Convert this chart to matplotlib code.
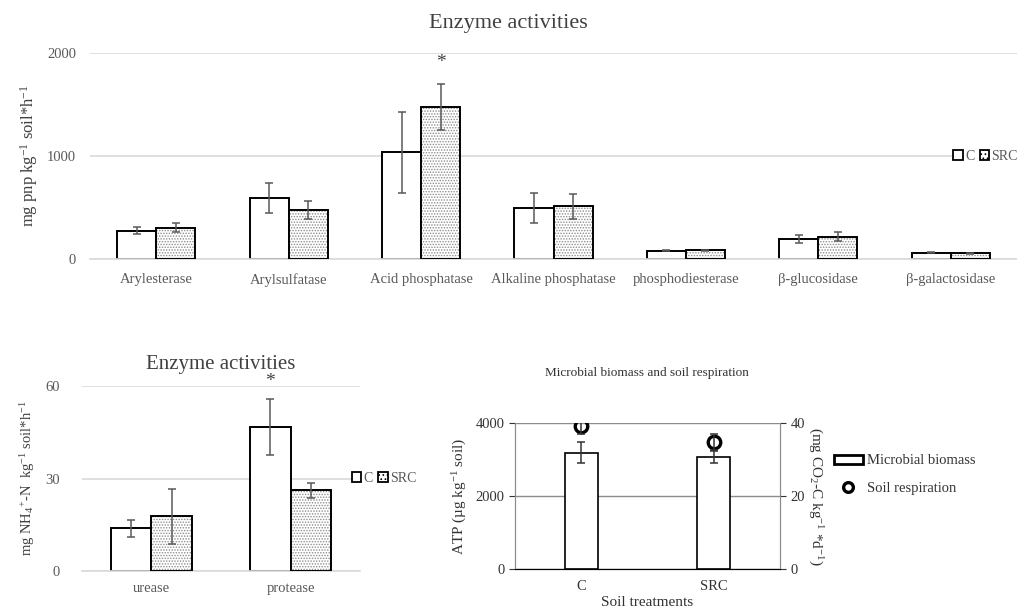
import matplotlib
matplotlib.use("Agg")
import matplotlib.pyplot as plt
import numpy as np
from matplotlib.lines import Line2D
from matplotlib.patches import Patch

# top panel: enzyme activities (mg pnp)
ENZ_CATS = ["Arylesterase", "Arylsulfatase", "Acid phosphatase", "Alkaline phosphatase",
            "phosphodiesterase", "\u03b2-glucosidase", "\u03b2-galactosidase"]
ENZ_C = [275, 590, 1035, 495, 80, 195, 60]
ENZ_C_ERR = [32, 148, 395, 145, 5, 40, 4]
ENZ_SRC = [305, 478, 1475, 510, 86, 215, 56]
ENZ_SRC_ERR = [40, 85, 220, 118, 5, 43, 4]
ENZ_STAR = [2]  # index of SRC bar marked with *

# bottom-left panel: N enzymes
N_CATS = ["urease", "protease"]
N_C = [13.9, 46.7]
N_C_ERR = [2.8, 9.0]
N_SRC = [17.8, 26.2]
N_SRC_ERR = [8.9, 2.4]

# bottom-right panel: biomass and respiration
TREATS = ["C", "SRC"]
ATP = [3190, 3075]
ATP_ERR = [290, 170]
RESP = [39.2, 35.0]
RESP_ERR = [2.2, 2.2]

GRAY = "#595959"
GRID = "#d9d9d9"
HATCH_COL = "#8c8c8c"

plt.rcParams.update({
    "font.family": ["Liberation Serif", "DejaVu Serif"],
    "mathtext.fontset": "custom",
    "mathtext.rm": "Liberation Serif",
    "mathtext.it": "Liberation Serif:italic",
    "hatch.linewidth": 0.7,
})


def paired_bars(ax, c, c_err, s, s_err, width):
    x = np.arange(len(c))
    xc, xs = x - width / 2, x + width / 2
    ax.bar(xc, c, width, color="white", edgecolor="black", linewidth=1.4, zorder=2)
    # hatch drawn separately so it stays gray under a black outline
    ax.bar(xs, s, width, color="white", edgecolor=HATCH_COL, hatch="......", linewidth=0, zorder=2)
    ax.bar(xs, s, width, fill=False, edgecolor="black", linewidth=1.4, zorder=3)
    ax.errorbar(xc, c, yerr=c_err, fmt="none", ecolor=GRAY, elinewidth=1.1, capsize=3, capthick=1.1, zorder=4)
    ax.errorbar(xs, s, yerr=s_err, fmt="none", ecolor=GRAY, elinewidth=1.1, capsize=3, capthick=1.1, zorder=4)
    return x, xc, xs


def style_flat(ax):
    for side in ["top", "left", "right"]:
        ax.spines[side].set_visible(False)
    ax.spines["bottom"].set_color(GRID)
    ax.spines["bottom"].set_linewidth(1.2)
    ax.yaxis.grid(True, color=GRID, linewidth=1.2, zorder=0)
    ax.set_axisbelow(True)
    ax.tick_params(length=0, colors=GRAY, labelsize=10.5)


def cg_legend_handles():
    return [Patch(facecolor="white", edgecolor="black", linewidth=1.3),
            Patch(facecolor="white", edgecolor="black", hatch="....", linewidth=1.3)]


fig = plt.figure(figsize=(10.17, 6.1), dpi=100)

# ---- top panel
ax1 = fig.add_axes([0.0885, 0.5754, 0.9115, 0.3377])
x, xc, xs = paired_bars(ax1, ENZ_C, ENZ_C_ERR, ENZ_SRC, ENZ_SRC_ERR, 0.295)
style_flat(ax1)
ax1.set_xlim(-0.5, len(ENZ_CATS) - 0.5)
ax1.set_ylim(0, 2000)
ax1.set_yticks([0, 1000, 2000])
ax1.set_xticks(x)
ax1.set_xticklabels(ENZ_CATS, fontsize=10.5)
ax1.tick_params(axis="x", pad=10)
ax1.tick_params(axis="y", pad=10)
for i in ENZ_STAR:
    ax1.text(xs[i], ENZ_SRC[i] + ENZ_SRC_ERR[i] + 130, "*", ha="center", va="bottom",
             fontsize=14, color="#404040")
ax1.set_ylabel("mg pnp kg$^{-1}$ soil*h$^{-1}$", fontsize=12, color="#404040", labelpad=5)
fig.text(0.5, 0.962, "Enzyme activities", ha="center", va="center", fontsize=16, color="#404040")
leg1 = ax1.legend(cg_legend_handles(), ["C", "SRC"], ncol=2, loc="center right",
                  bbox_to_anchor=(1.01, 0.5), fontsize=10, handlelength=0.7, handleheight=0.7,
                  handletextpad=0.15, columnspacing=0.4, borderpad=0.1, frameon=True,
                  fancybox=False, edgecolor="none", labelcolor=GRAY)
leg1.get_frame().set_facecolor("white")
leg1.get_frame().set_alpha(1)

# ---- bottom-left panel
ax2 = fig.add_axes([0.0806, 0.0639, 0.2734, 0.3033])
x2, xc2, xs2 = paired_bars(ax2, N_C, N_C_ERR, N_SRC, N_SRC_ERR, 0.29)
style_flat(ax2)
ax2.set_xlim(-0.5, len(N_CATS) - 0.5)
ax2.set_ylim(0, 60)
ax2.set_yticks([0, 30, 60])
ax2.set_xticks(x2)
ax2.set_xticklabels(N_CATS, fontsize=10.5)
ax2.tick_params(axis="x", pad=8)
ax2.tick_params(axis="y", pad=16)
ax2.text(xc2[1], N_C[1] + N_C_ERR[1] + 3.0, "*", ha="center", va="bottom",
         fontsize=14, color="#404040")
ax2.set_ylabel("mg NH$_4$$^{+}$-N  kg$^{-1}$ soil*h$^{-1}$", fontsize=10.5, color="#404040", labelpad=6)
ax2.set_title("Enzyme activities", fontsize=15, color="#404040", pad=12)
ax2.legend(cg_legend_handles(), ["C", "SRC"], ncol=2, loc="center left",
           bbox_to_anchor=(0.94, 0.5), fontsize=10, handlelength=0.7, handleheight=0.7,
           handletextpad=0.15, columnspacing=0.4, borderpad=0.1, frameon=False,
           labelcolor=GRAY)

# ---- bottom-right panel
ax3 = fig.add_axes([0.5064, 0.0667, 0.2606, 0.2394])
xt = np.arange(len(TREATS))
ax3.bar(xt, ATP, 0.25, color="white", edgecolor="black", linewidth=1.2, zorder=2)
ax3.errorbar(xt, ATP, yerr=ATP_ERR, fmt="none", ecolor="#333333", elinewidth=1.1,
             capsize=3, capthick=1.1, zorder=3)
ax3.set_xlim(-0.5, len(TREATS) - 0.5)
ax3.set_ylim(0, 4000)
ax3.set_yticks([0, 2000, 4000])
ax3.set_xticks(xt)
ax3.set_xticklabels(TREATS)
ax3.yaxis.grid(True, color="#8c8c8c", linewidth=1.0, zorder=0)
ax3.set_axisbelow(True)
for side in ["left", "right"]:
    ax3.spines[side].set_color("#8c8c8c")
ax3.spines["bottom"].set_color("#333333")
ax3.spines["top"].set_visible(False)
ax3.tick_params(axis="y", length=4, colors="#333333", labelsize=10.5)
ax3.tick_params(axis="x", length=0, colors="#333333", labelsize=10.5, pad=8)
ax3.set_ylabel("ATP (\u00b5g kg$^{-1}$ soil)", fontsize=11, color="#333333", labelpad=5)
ax3.set_xlabel("Soil treatments", fontsize=11, color="#333333", labelpad=2)

ax4 = ax3.twinx()
ax4.set_ylim(0, 40)
ax4.set_yticks([0, 20, 40])
ax4.errorbar(xt, RESP, yerr=RESP_ERR, fmt="none", ecolor="#333333", elinewidth=1.1,
             capsize=3, capthick=1.1, zorder=6)
ax4.plot(xt, RESP, "o", ms=9, mfc="none", mec="black", mew=2.4, zorder=5)
for side in ["left", "right"]:
    ax4.spines[side].set_color("#8c8c8c")
ax4.spines["top"].set_visible(False)
ax4.tick_params(axis="y", length=4, colors="#333333", labelsize=10.5)
ax4.set_ylabel("(mg CO$_2$-C kg$^{-1}$ *d$^{-1}$)", fontsize=11, color="#333333",
               rotation=-90, labelpad=14)
fig.text(0.636, 0.388, "Microbial biomass and soil respiration", ha="center", va="center",
         fontsize=9.5, color="#333333")

handles3 = [Patch(facecolor="white", edgecolor="black", linewidth=2.0),
            Line2D([], [], marker="o", ls="none", ms=7, mfc="white", mec="black", mew=2.4)]
fig.legend(handles3, ["Microbial biomass", "Soil respiration"], loc="center left",
           bbox_to_anchor=(0.807, 0.222), fontsize=10.5, frameon=False,
           handlelength=2.0, handleheight=0.6, handletextpad=0.3, labelspacing=1.0,
           labelcolor="#333333")

fig.savefig("out.png", dpi=100)
